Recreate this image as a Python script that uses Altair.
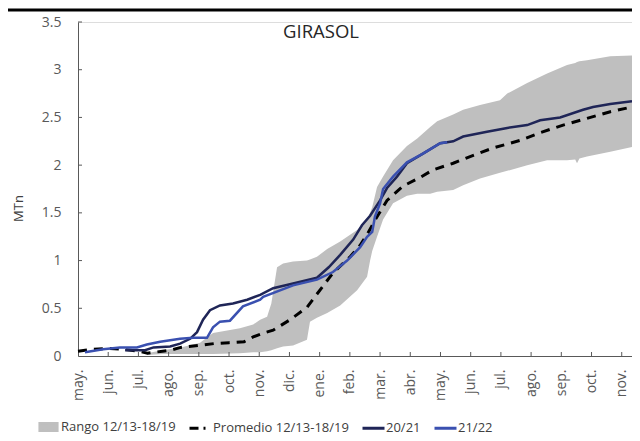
import json
import altair as alt
import pandas as pd

# ---------------- data ----------------
months = ["may.", "jun.", "jul.", "ago.", "sep.", "oct.", "nov.", "dic.", "ene.",
          "feb.", "mar.", "abr.", "may.", "jun.", "jul.", "ago.", "sep.", "oct.", "nov."]

series_names = ["Rango 12/13-18/19", "Promedio 12/13-18/19", "20/21", "21/22"]

# month position (0 = may. of first year)
band_m = [2.28, 2.8, 3.4, 4.04, 4.47, 5.36, 5.8, 6.03, 6.26, 6.40, 6.59, 6.79, 7.12, 7.58, 7.68,
          7.91, 8.25, 8.68, 9.24, 9.57, 9.67, 9.74, 9.90, 10.10, 10.43, 10.89, 11.23, 11.66,
          11.89, 12.42, 12.75, 13.31, 13.97, 14.21, 14.87, 15.53, 16.19, 16.46, 16.52, 16.60,
          16.85, 17.62, 18.34]
band_lo = [0.01, 0.02, 0.02, 0.02, 0.02, 0.03, 0.04, 0.04, 0.05, 0.06, 0.08, 0.10, 0.11, 0.17, 0.36,
           0.40, 0.45, 0.53, 0.69, 0.83, 1.00, 1.10, 1.25, 1.43, 1.60, 1.68, 1.70, 1.70,
           1.72, 1.74, 1.79, 1.86, 1.92, 1.94, 2.00, 2.05, 2.05, 2.06, 2.02, 2.07,
           2.09, 2.14, 2.19]
band_hi = [0.03, 0.06, 0.09, 0.14, 0.24, 0.29, 0.33, 0.38, 0.41, 0.55, 0.93, 0.97, 0.99, 1.00, 1.01,
           1.04, 1.12, 1.20, 1.32, 1.43, 1.50, 1.56, 1.77, 1.88, 2.05, 2.20, 2.28, 2.40,
           2.46, 2.53, 2.58, 2.63, 2.68, 2.75, 2.86, 2.96, 3.05, 3.07, 3.08, 3.09,
           3.10, 3.14, 3.15]

prom_m = [0.0, 0.5, 1.0, 1.5, 2.0, 2.3, 2.8, 3.05, 3.4, 4.0, 4.5, 5.0, 5.5, 5.8, 6.13, 6.46, 7.02,
          7.58, 8.08, 8.44, 9.01, 9.34, 9.60, 9.90, 10.23, 10.76, 11.32, 11.75, 12.42, 12.98,
          13.74, 14.64, 15.30, 16.06, 16.85, 17.62, 18.34]
prom_v = [0.05, 0.07, 0.08, 0.07, 0.05, 0.03, 0.05, 0.06, 0.09, 0.11, 0.13, 0.14, 0.15, 0.20, 0.24,
          0.27, 0.38, 0.51, 0.72, 0.87, 1.04, 1.16, 1.29, 1.46, 1.63, 1.78, 1.87, 1.95, 2.02,
          2.09, 2.18, 2.26, 2.34, 2.42, 2.49, 2.56, 2.61]

s2021_m = [1.56, 2.22, 2.5, 3.05, 3.38, 3.71, 3.94, 4.14, 4.37, 4.70, 5.13, 5.60, 6.03, 6.46,
           7.12, 7.91, 8.30, 8.68, 9.11, 9.40, 9.67, 10.0, 10.23, 10.56, 10.89, 11.42, 11.99,
           12.22, 12.42, 12.75, 13.54, 14.21, 14.87, 15.30, 15.96, 16.72, 17.05, 17.62, 18.34]
s2021_v = [0.06, 0.06, 0.09, 0.10, 0.13, 0.18, 0.25, 0.38, 0.48, 0.53, 0.55, 0.59, 0.64, 0.71,
           0.76, 0.82, 0.93, 1.06, 1.22, 1.37, 1.47, 1.63, 1.76, 1.88, 2.02, 2.12, 2.23,
           2.24, 2.25, 2.30, 2.35, 2.39, 2.42, 2.47, 2.50, 2.58, 2.61, 2.64, 2.67]

s2122_m = [0.23, 0.83, 1.39, 1.95, 2.28, 2.72, 3.38, 3.81, 4.27, 4.47, 4.70, 5.03, 5.46, 6.03,
           6.13, 7.12, 7.91, 8.44, 8.91, 9.34, 9.57, 9.74, 9.83, 10.0, 10.10, 10.43, 10.89,
           11.42, 11.99, 12.22]
s2122_v = [0.04, 0.07, 0.09, 0.09, 0.12, 0.15, 0.18, 0.19, 0.19, 0.30, 0.36, 0.37, 0.52, 0.59,
           0.62, 0.74, 0.80, 0.88, 1.00, 1.14, 1.25, 1.30, 1.46, 1.60, 1.75, 1.88, 2.03,
           2.12, 2.23, 2.24]

y_ticks = [0.5, 1.0, 1.5, 2.0, 2.5, 3.0, 3.5]

# ---------------- styling ----------------
GREY = "#BFBFBF"
NAVY = "#1F2557"
BLUE = "#3A50B0"
FONT = "Open Sans"
W, H = 554, 334

band_df = pd.DataFrame({"m": band_m, "lo": band_lo, "hi": band_hi})
prom_df = pd.DataFrame({"m": prom_m, "v": prom_v})
s2021_df = pd.DataFrame({"m": s2021_m, "v": s2021_v})
s2122_df = pd.DataFrame({"m": s2122_m, "v": s2122_v})
legend_df = pd.DataFrame({"serie": series_names, "m": [0] * 4, "v": [0] * 4})

xscale = alt.Scale(domain=[0, 18.34], nice=False, zero=False)
yscale = alt.Scale(domain=[0, 3.5], nice=False)

label_expr = json.dumps(months) + "[datum.value]"

x_axis = alt.Axis(values=list(range(len(months))), labelExpr=label_expr, labelAngle=-90,
                  labelPadding=13, ticks=False, tickSize=0, grid=False, title=None,
                  domainColor="#595959", labelFont=FONT, labelFontSize=14,
                  labelColor="#595959", labelOverlap=False, labelFlush=False)
y_axis = alt.Axis(values=[0] + y_ticks, format=".1~f", ticks=False, tickSize=0, grid=False,
                  title="MTn", titleFont=FONT, titleFontSize=13, titleFontWeight="normal",
                  titleColor="#404040", titleAngle=-90, titleX=-60, titleY=186,
                  titleAlign="center", titleBaseline="middle",
                  domainColor="#595959", labelFont=FONT, labelFontSize=14,
                  labelColor="#595959", labelPadding=17, labelOverlap=False)

X = alt.X("m:Q", scale=xscale, axis=x_axis)
YV = alt.Y("v:Q", scale=yscale, axis=y_axis)

band = alt.Chart(band_df).mark_area(color=GREY, opacity=1).encode(
    x=X,
    y=alt.Y("lo:Q", scale=yscale, axis=y_axis),
    y2="hi:Q",
)

prom = alt.Chart(prom_df).mark_line(color="black", strokeWidth=3, strokeDash=[9, 7]).encode(x=X, y=YV)
l2021 = alt.Chart(s2021_df).mark_line(color=NAVY, strokeWidth=2.5).encode(x=X, y=YV)
l2122 = alt.Chart(s2122_df).mark_line(color=BLUE, strokeWidth=2.5).encode(x=X, y=YV)

xt = alt.Chart(pd.DataFrame({"m": list(range(1, len(months)))})).mark_rule(
    color="#595959", strokeWidth=1).encode(
    x=X, y=alt.value(H - 4), y2=alt.value(H))
yt = alt.Chart(pd.DataFrame({"v": y_ticks})).mark_rule(
    color="#595959", strokeWidth=1).encode(
    y=YV, x=alt.value(0), x2=alt.value(4))

top_line = alt.Chart(pd.DataFrame({"k": [0]})).mark_rule(
    color="black", strokeWidth=3, clip=False).encode(
    x=alt.value(-70), x2=alt.value(W), y=alt.value(-12))

rect_path = "M-0.78,-0.32H0.78V0.32H-0.78Z"
legend = alt.Legend(title=None, orient="none", legendX=-42, legendY=392, direction="horizontal",
                    labelFont=FONT, labelFontSize=13, labelColor="#404040", labelOffset=0,
                    columnPadding=7, symbolStrokeWidth=3, symbolSize=484, padding=0)
dom = series_names
leg = alt.Chart(legend_df).mark_point(size=484, strokeWidth=3, opacity=1).encode(
    x=X,
    y=YV,
    fill=alt.Fill("serie:N", scale=alt.Scale(domain=dom, range=[GREY, "transparent", "transparent", "transparent"]), legend=legend),
    stroke=alt.Stroke("serie:N", scale=alt.Scale(domain=dom, range=[GREY, "black", NAVY, BLUE]), legend=legend),
    shape=alt.Shape("serie:N", scale=alt.Scale(domain=dom, range=[rect_path, "stroke", "stroke", "stroke"]), legend=legend),
    strokeDash=alt.StrokeDash("serie:N", scale=alt.Scale(domain=dom, range=[[1, 0], [9, 5, 2, 30], [1, 0], [1, 0]]), legend=legend),
).transform_filter("datum.m < 0")

chart = alt.layer(band, prom, l2021, l2122, xt, yt, leg, top_line).properties(
    width=W, height=H,
    title=alt.Title("GIRASOL", font=FONT, fontSize=18.5, fontWeight="normal", color="#262626",
                    anchor="middle", dx=-34, offset=-33),
    autosize=alt.AutoSizeParams(type="none"),
    padding={"left": 70, "top": 14, "right": 0, "bottom": 85},
).configure_view(stroke=None).configure(background="white")

chart.save("out.html", embed_options={"renderer": "svg", "actions": False})
